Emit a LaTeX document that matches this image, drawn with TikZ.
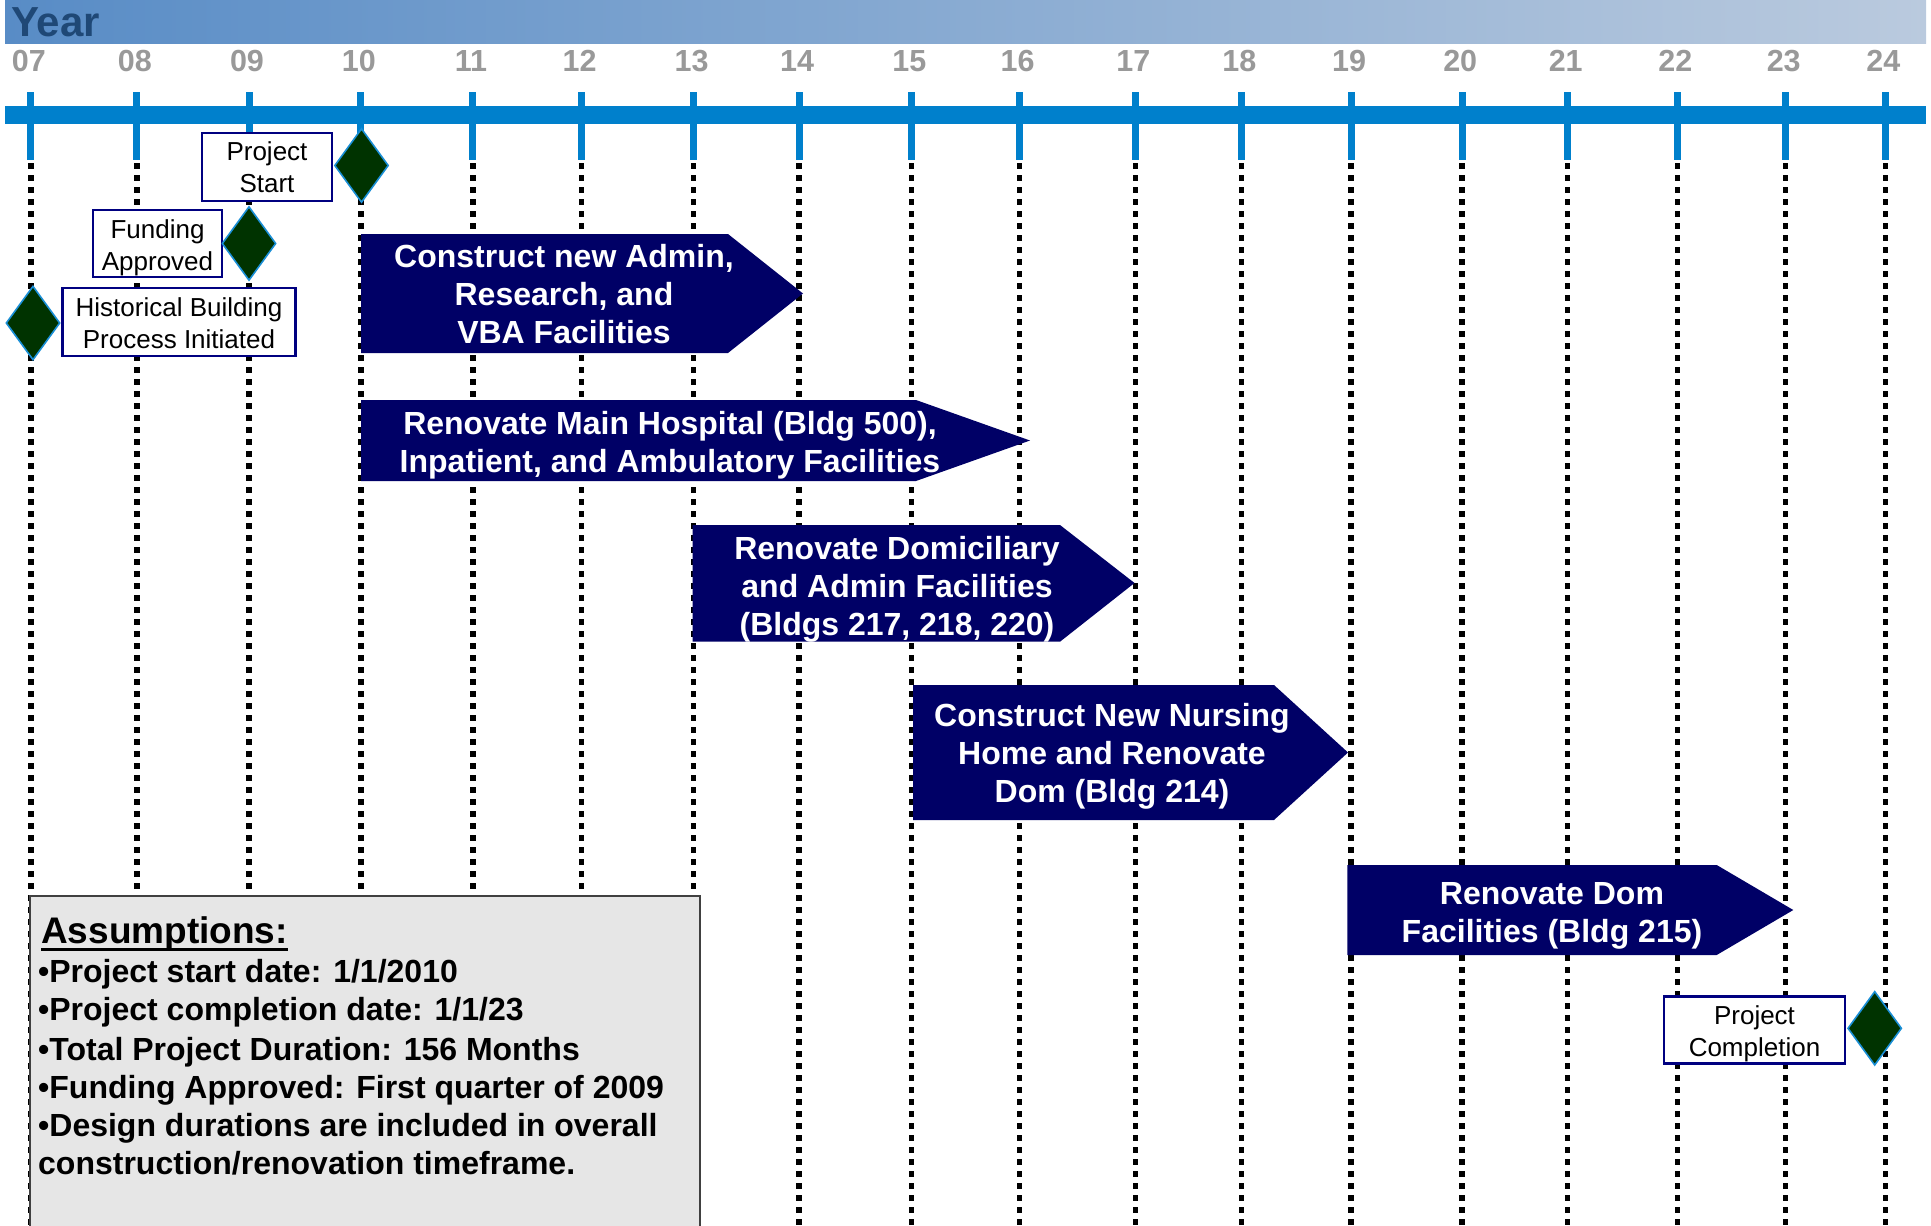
\documentclass[tikz,border=0pt]{standalone}
\usepackage{fontspec}
\setmainfont{Liberation Sans}
\usetikzlibrary{shapes.geometric}
\definecolor{navyfill}{RGB}{0,0,102}
\definecolor{barblue}{RGB}{0,128,204}
\definecolor{boxnavy}{RGB}{0,0,128}
\definecolor{dgreen}{RGB}{0,51,0}
\definecolor{dedge}{RGB}{26,143,214}
\definecolor{yeargray}{RGB}{153,153,153}
\definecolor{yeartitle}{RGB}{31,72,118}
\definecolor{bandleft}{RGB}{88,140,198}
\definecolor{bandright}{RGB}{186,202,222}
\definecolor{boxgray}{RGB}{230,230,230}
\begin{document}
\begin{tikzpicture}[x=1pt,y=-1pt,
  yearlab/.style={anchor=base,inner sep=0pt,text=yeargray,font=\fontsize{30.5}{36}\selectfont\bfseries},
  tickline/.style={draw=barblue,line width=7pt,line cap=butt},
  dotline/.style={draw=black,line width=5.5pt,line cap=butt,dash pattern=on 5.5pt off 6.5pt},
  taskarrow/.style={fill=navyfill},
  tasktext/.style={text=white,align=center,inner sep=0pt,font=\fontsize{32}{38}\selectfont\bfseries},
  milebox/.style={draw=boxnavy,fill=white,line width=2.2pt,rectangle,inner sep=0pt},
  boxtext/.style={inner sep=0pt,align=center,font=\fontsize{26}{32}\selectfont},
  milestone/.style={diamond,draw=dedge,fill=dgreen,line width=1.6pt,inner sep=0pt,minimum width=54pt,minimum height=74pt},
  assume/.style={anchor=base west,inner sep=0pt,font=\fontsize{32}{38}\selectfont\bfseries}]
\useasboundingbox (0,0) rectangle (1931,1226);
\begin{scope}
\clip (0,0) rectangle (1931,1226);
% header band
\shade[left color=bandleft,right color=bandright] (5,0) rectangle (1926,43);
\node[anchor=base west,inner sep=0pt,text=yeartitle,font=\fontsize{42}{48}\selectfont\bfseries] (yeartitle) at (11,36.7) {Year};
% main bar
\fill[barblue] (5,106) rectangle (1926,124);
% ticks, year labels, dotted lines
\foreach \x/\l [count=\i] in {30.8/07,136.8/08,249/09,360.8/10,472.9/11,581.5/12,693.5/13,799.2/14,911.3/15,1019.7/16,1135.4/17,1241.4/18,1351/19,1462.2/20,1567.7/21,1677.3/22,1785.7/23,1885.4/24}{
  \node[yearlab] (yl\i) at (\x-2,71.7) {\l};
  \draw[tickline] (\x,92) -- (\x,160);
  \draw[dotline] (\x,163) -- (\x,1240);
}
% assumptions box
\draw[fill=boxgray,draw=black!75,line width=2pt] (30,896) rectangle (700,1240);
\node[assume,font=\fontsize{37}{42}\selectfont\bfseries] (atitle) at (41,943) {Assumptions:};
\draw[line width=3pt] ([yshift=-6pt]atitle.base west) -- ([yshift=-6pt]atitle.base east);
\node[assume] (a1) at (38,982.5) {•Project start date: 1/1/2010};
\node[assume] (a2) at (38,1020.5) {•Project completion date: 1/1/23};
\node[assume] (a3) at (38,1060) {•Total Project Duration: 156 Months};
\node[assume] (a4) at (38,1098.5) {•Funding Approved: First quarter of 2009};
\node[assume] (a5) at (38,1136.5) {•Design durations are included in overall};
\node[assume] (a6) at (38,1174.5) {construction/renovation timeframe.};
\end{scope}
% task arrows
\fill[taskarrow] (361,234) -- (728,234) -- (803,293.5) -- (728,353) -- (361,353) -- cycle;
\node[tasktext] (t1) at (564,294) {Construct new Admin,\\Research, and\\VBA Facilities};
\fill[taskarrow] (361,400) -- (916,400) -- (1030,440.5) -- (916,481) -- (361,481) -- cycle;
\node[tasktext] (t2) at (670,445) {Renovate Main Hospital (Bldg 500),\\Inpatient, and Ambulatory Facilities};
\fill[taskarrow] (692.5,525) -- (1060,525) -- (1134.5,583) -- (1060,641.7) -- (692.5,641.7) -- cycle;
\node[tasktext] (t3) at (897,589) {Renovate Domiciliary\\and Admin Facilities\\(Bldgs 217, 218, 220)};
\fill[taskarrow] (913,685) -- (1274,685) -- (1348,752.5) -- (1274,820) -- (913,820) -- cycle;
\node[tasktext] (t4) at (1112,756.5) {Construct New Nursing\\Home and Renovate\\Dom (Bldg 214)};
\fill[taskarrow] (1347.3,865) -- (1716.7,865) -- (1793.3,910) -- (1716.7,955) -- (1347.3,955) -- cycle;
\node[tasktext] (t5) at (1552,915.5) {Renovate Dom\\Facilities (Bldg 215)};
% milestone boxes
\node[milebox,minimum width=130pt,minimum height=68pt] (mstart) at (267,167) {};
\node[boxtext] (mstartt) at (mstart.center) {Project\\Start};
\node[milebox,minimum width=129pt,minimum height=67pt] (mfund) at (157.5,243.5) {};
\node[boxtext] (mfundt) at ([yshift=-4pt]mfund.center) {Funding\\Approved};
\node[milebox,minimum width=233pt,minimum height=68pt] (mhist) at (179,322) {};
\node[boxtext] (mhistt) at ([yshift=-1pt]mhist.center) {Historical Building\\Process Initiated};
\node[milebox,minimum width=181pt,minimum height=67pt] (mcomp) at (1754.5,1030) {};
\node[boxtext] (mcompt) at ([yshift=-4pt]mcomp.center) {Project\\Completion};
% milestone diamonds
\node[milestone] (d10) at (361.5,165.5) {};
\node[milestone] (d09) at (249,243.5) {};
\node[milestone] (d07) at (33,323) {};
\node[milestone] (d24) at (1874.7,1028.3) {};
\end{tikzpicture}
\end{document}
